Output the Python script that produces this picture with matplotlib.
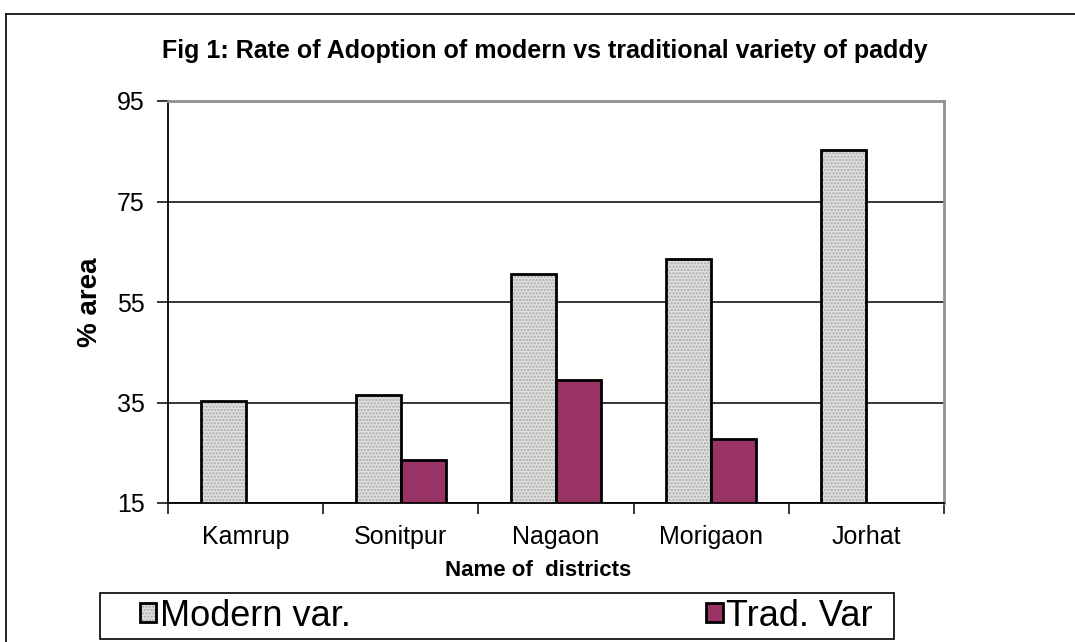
import numpy as np
import matplotlib
matplotlib.use('Agg')
import matplotlib.pyplot as plt
from matplotlib.patches import Rectangle
from matplotlib.lines import Line2D
from matplotlib.legend_handler import HandlerTuple

plt.rcParams['font.family'] = ['Liberation Sans', 'DejaVu Sans']
plt.rcParams['hatch.linewidth'] = 1.0

districts = ['Kamrup', 'Sonitpur', 'Nagaon', 'Morigaon', 'Jorhat']
modern_var = [35.2, 36.4, 60.5, 63.5, 85.3]
trad_var = [np.nan, 23.5, 39.4, 27.7, np.nan]
y_ticks = [15, 35, 55, 75, 95]

W, H = 1075, 642
fig = plt.figure(figsize=(W / 100, H / 100), dpi=100)
ax = fig.add_axes([168 / W, 1 - 503 / H, (944 - 168) / W, (503 - 101) / H])

pos = np.arange(len(districts))
width = 0.29

# modern bars: dotted grey fill + black outline
b1 = ax.bar(pos - width / 2, np.array(modern_var) - 15, width, bottom=15,
            color='#dedede', edgecolor='#a9a9a9', hatch='.....', linewidth=0, zorder=3)
b1o = ax.bar(pos - width / 2, np.array(modern_var) - 15, width, bottom=15,
             fill=False, edgecolor='black', linewidth=2, zorder=4)
b2 = ax.bar(pos + width / 2, np.array(trad_var) - 15, width, bottom=15,
            color='#993366', edgecolor='black', linewidth=2, zorder=3)

ax.set_xlim(-0.5, len(districts) - 0.5)
ax.set_ylim(15, 95)
ax.set_yticks(y_ticks)
ax.yaxis.grid(True, color='black', linewidth=1.1, zorder=1)
ax.set_axisbelow(True)

ax.set_xticks(pos)
ax.set_xticklabels(districts, fontsize=18)
ax.set_xticks(np.arange(len(districts) + 1) - 0.5, minor=True)
ax.tick_params(axis='x', which='major', length=0, pad=16)
ax.tick_params(axis='x', which='minor', length=8, width=1.1, direction='out')
ax.tick_params(axis='y', length=8, width=1.1, labelsize=18, pad=9)

for s in ['left', 'bottom']:
    ax.spines[s].set_color('black')
    ax.spines[s].set_linewidth(1.3)
for s in ['top', 'right']:
    ax.spines[s].set_color('#909090')
    ax.spines[s].set_linewidth(2)

ax.set_ylabel('% area', fontsize=20, fontweight='bold', labelpad=10)
fig.text(538 / W, 1 - 571 / H, 'Name of  districts', fontsize=16, fontweight='bold',
         ha='center', va='center')
fig.text(545 / W, 1 - 51 / H,
         'Fig 1: Rate of Adoption of modern vs traditional variety of paddy',
         fontsize=18, fontweight='bold', ha='center', va='center')

# outer chart frame
fig.add_artist(Line2D([6 / W, 1.0], [1 - 14 / H, 1 - 14 / H], color='black', lw=1.2,
                      transform=fig.transFigure))
fig.add_artist(Line2D([6 / W, 6 / W], [0, 1 - 14 / H], color='black', lw=1.2,
                      transform=fig.transFigure))

# legend box
fig.add_artist(Rectangle((100 / W, 1 - 639 / H), 794 / W, 46 / H, fill=False,
                         edgecolor='black', lw=1.2, transform=fig.transFigure))
fig.legend([(b1, b1o), b2], ['Modern var.', 'Trad. Var'],
           handler_map={tuple: HandlerTuple(ndivide=1)},
           loc='center left', bbox_to_anchor=(140 / W, 1 - 616 / H),
           ncol=2, frameon=False, fontsize=26, handlelength=0.45, handleheight=0.45,
           handletextpad=0.1, columnspacing=9.85, borderpad=0, borderaxespad=0)

fig.savefig('out.png', dpi=100)
